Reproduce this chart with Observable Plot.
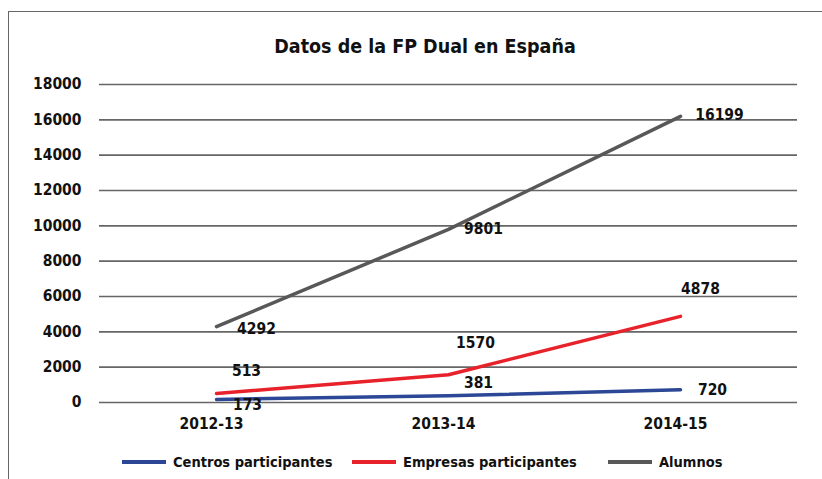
<!DOCTYPE html>
<html>
<head>
<meta charset="utf-8">
<script src="https://cdn.jsdelivr.net/npm/d3@7"></script>
<script src="https://cdn.jsdelivr.net/npm/@observablehq/plot@0.6"></script>
<style>
  html, body { margin: 0; padding: 0; background: #fff; }
  body { width: 822px; height: 479px; position: relative; overflow: hidden;
         font-family: "Liberation Sans Narrow", "Arial Narrow", "DejaVu Sans Condensed", sans-serif; font-weight: bold; }
  #frame { position: absolute; left: 8px; top: 11px; width: 900px; height: 600px;
           border-left: 1.5px solid #666; border-top: 1.5px solid #666; }
  #title { position: absolute; left: 0; width: 850px; top: 35px; text-align: center;
           font-size: 19.5px; color: #111; }
  #chart { position: absolute; left: 0; top: 0; }
  #legend { position: absolute; top: 452px; left: 0; width: 822px; height: 20px; font-size: 14.5px; color: #111; }
  .item { position: absolute; top: 0; display: flex; align-items: center; height: 20px; }
  .swatch { width: 44px; height: 4px; margin-right: 7px; }
</style>
</head>
<body>
<div id="frame"></div>
<div id="chart"></div>
<div id="title">Datos de la FP Dual en España</div>
<div id="legend"></div>
<script>
const years = ["2012-13", "2013-14", "2014-15"];
const seriesNames = ["Centros participantes", "Empresas participantes", "Alumnos"];
const centros = [173, 381, 720];
const empresas = [513, 1570, 4878];
const alumnos = [4292, 9801, 16199];
const yTicks = [0, 2000, 4000, 6000, 8000, 10000, 12000, 14000, 16000, 18000];
const colors = ["#2b4796", "#e8222b", "#585858"];

// label offsets (pixels, relative to each point) as in the reference
const labelDx = [[31, 30, 32], [30, 27, 20], [40, 35, 39]];
const labelDy = [[6, -13, 0], [-22, -32, -27], [2, 0, -1]];

const seriesValues = [centros, empresas, alumnos];
const data = [];
seriesNames.forEach((s, i) => years.forEach((y, j) => data.push({series: s, year: y, value: seriesValues[i][j], si: i, yi: j})));

const fontFam = "Liberation Sans Narrow, Arial Narrow, DejaVu Sans Condensed, sans-serif";
const labelMarks = data.map(d => Plot.text([d], {
  x: "year", y: "value", text: d => String(d.value),
  dx: labelDx[d.si][d.yi], dy: labelDy[d.si][d.yi],
  fontSize: 15.5, fontWeight: "bold", fill: "#111", textAnchor: "middle", fontFamily: fontFam
}));

const chart = Plot.plot({
  width: 822,
  height: 479,
  marginLeft: 99,
  marginRight: 25,
  marginTop: 84,
  marginBottom: 77,
  style: {fontFamily: fontFam, fontWeight: "bold", fontSize: "15.5px", color: "#111", background: "transparent"},
  x: {type: "point", domain: years, padding: 0.5, label: null},
  y: {domain: [0, 18000], label: null},
  color: {domain: seriesNames, range: colors},
  marks: [
    Plot.gridY(yTicks, {stroke: "#666", strokeOpacity: 1, strokeWidth: 1.6}),
    Plot.axisY(yTicks, {tickSize: 0, tickPadding: 18, label: null, tickFormat: d => String(d), fontSize: 15.5}),
    Plot.axisX(years, {tickSize: 0, tickPadding: 15, dx: -5, label: null, fontSize: 15.5}),
    Plot.line(data, {x: "year", y: "value", z: "series", stroke: "series", strokeWidth: 3.5, strokeLinejoin: "round"}),
    ...labelMarks
  ]
});
document.getElementById("chart").appendChild(chart);

const legendLefts = [122, 352, 608];
const legend = document.getElementById("legend");
seriesNames.forEach((s, i) => {
  const item = document.createElement("div");
  item.className = "item";
  item.style.left = legendLefts[i] + "px";
  const sw = document.createElement("div");
  sw.className = "swatch";
  sw.style.background = colors[i];
  const tx = document.createElement("span");
  tx.textContent = s;
  item.appendChild(sw); item.appendChild(tx);
  legend.appendChild(item);
});
</script>
</body>
</html>
